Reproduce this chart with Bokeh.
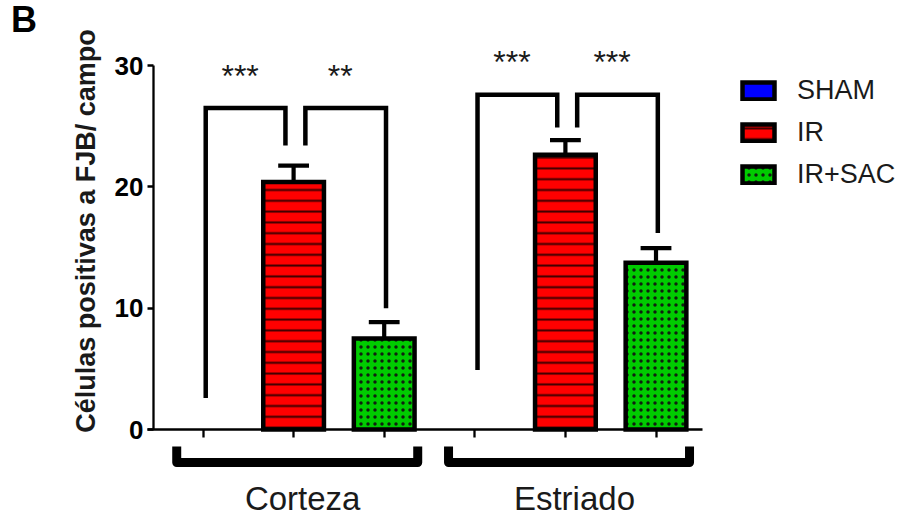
import math

from bokeh.plotting import figure
from bokeh.models import ColumnDataSource, FixedTicker, Label, Legend, LegendItem, Range1d
from bokeh.core.properties import value
from bokeh.embed import file_html
from bokeh.resources import INLINE

# ---- data ---------------------------------------------------------------
regions = ["Corteza", "Estriado"]
groups = ["SHAM", "IR", "IR+SAC"]

sham_mean = [0.0, 0.0]
sham_sem = [0.0, 0.0]
ir_mean = [20.4, 22.65]
ir_sem = [1.35, 1.2]
sac_mean = [7.5, 13.75]
sac_sem = [1.35, 1.2]

y_ticks = [0, 10, 20, 30]
y_label = "Células positivas a FJB/ campo"
panel_letter = "B"

# pairwise comparisons: region, left group, right group, arm ends, bracket top, stars
sig_region = [0, 0, 1, 1]
sig_left = [0, 1, 0, 1]
sig_right = [1, 2, 1, 2]
sig_left_end = [2.6, 23.4, 4.9, 24.9]
sig_right_end = [23.4, 10.0, 24.9, 16.2]
sig_top = [26.5, 26.5, 27.6, 27.6]
sig_stars = ["***", "**", "***", "***"]

# ---- styling ------------------------------------------------------------
FONT = "Liberation Sans"
INK = "#1a1a1a"
BAR_W = 0.67
BAR_LW = 4.5
CAP_HALF = 0.17
COLORS = {"SHAM": "#0000ff", "IR": "#ff0000", "IR+SAC": "#00cc00"}
LEFT_ARM_SHIFT = {0: 0.03, 1: 0.13}
RIGHT_ARM_SHIFT = {1: -0.09, 2: 0.02}
Y_AXIS_AT = -0.5464          # where the value axis stands, in category units
X_AXIS_SPAN = (-0.613, 5.513)

W, H = 910, 518
p = figure(width=W, height=H, output_backend="svg", toolbar_location=None,
           x_range=Range1d(-2.2351, 7.809), y_range=Range1d(-7.335, 35.358),
           min_border_left=0, min_border_right=0, min_border_top=0,
           min_border_bottom=0)
p.outline_line_color = None
p.grid.visible = False
p.background_fill_color = "white"
p.border_fill_color = "white"


def pos(region, group):
    return 3 * region + group


def bar_source(means, sems, g):
    xs = [pos(r, g) for r in range(len(regions))]
    return ColumnDataSource(dict(x=xs, top=means, err=[m + s for m, s in zip(means, sems)],
                                 cl=[x - CAP_HALF for x in xs], cr=[x + CAP_HALF for x in xs]))


src_sham = bar_source(sham_mean, sham_sem, 0)
src_ir = bar_source(ir_mean, ir_sem, 1)
src_sac = bar_source(sac_mean, sac_sem, 2)

# SHAM bars sit at zero height: fill only
p.vbar(x="x", top="top", bottom=0, width=BAR_W, source=src_sham,
       fill_color=COLORS["SHAM"], line_color=None)
# legend key for SHAM (no drawable extent of its own)
sham_key = p.vbar(x=[float("nan")], top=[float("nan")], width=BAR_W,
                  fill_color=COLORS["SHAM"], line_color="black", line_width=BAR_LW,
                  line_join="miter")

ir_r = p.vbar(x="x", top="top", bottom=0, width=BAR_W, source=src_ir,
              fill_color=COLORS["IR"], line_color="black", line_width=BAR_LW,
              line_join="miter", hatch_pattern="horizontal_line", hatch_color="#3a0000",
              hatch_weight=2, hatch_scale=10.8)
sac_r = p.vbar(x="x", top="top", bottom=0, width=BAR_W, source=src_sac,
               fill_color=COLORS["IR+SAC"], line_color="black", line_width=BAR_LW,
               line_join="miter", hatch_pattern="dot", hatch_color="#102010",
               hatch_weight=1.5, hatch_scale=7)

# upper SEM whiskers
for src in (src_ir, src_sac):
    p.segment(x0="x", y0="top", x1="x", y1="err", source=src, line_color="black", line_width=4.2)
    p.segment(x0="cl", y0="err", x1="cr", y1="err", source=src, line_color="black", line_width=4.2)

# significance brackets
xs, ys, sx, sy = [], [], [], []
for r, a, b, ea, eb, top, s in zip(sig_region, sig_left, sig_right, sig_left_end,
                                   sig_right_end, sig_top, sig_stars):
    xa = pos(r, a) + LEFT_ARM_SHIFT[a]
    xb = pos(r, b) + RIGHT_ARM_SHIFT[b]
    xs.append([xa, xa, xb, xb])
    ys.append([ea, top, top, eb])
    sx.append((xa + xb) / 2 - 0.06)
    sy.append(top + 2.65)
p.multi_line(xs=xs, ys=ys, line_color="black", line_width=4.5, line_join="miter")
p.text(x=sx, y=sy, text=sig_stars, text_font=value(FONT), text_font_size="32px",
       text_color=INK, text_align="center", text_baseline="middle")

# region brackets and names under the x axis
gx, gy, lx = [], [], []
for r in range(len(regions)):
    a = pos(r, 0) - 0.29
    b = pos(r, len(groups) - 1) + 0.37
    gx.append([a, a, b, b])
    gy.append([-1.40, -2.72, -2.72, -1.40])
    lx.append(pos(r, 1) + 0.1)
p.multi_line(xs=gx, ys=gy, line_color="black", line_width=9, line_join="round")
p.text(x=lx, y=[-5.69] * len(regions), text=regions, text_font=value(FONT),
       text_font_size="33px", text_color=INK, text_align="center",
       text_baseline="middle")

# y axis, standing at a fixed position inside the canvas
ya = p.yaxis[0]
ya.fixed_location = Y_AXIS_AT
ya.ticker = FixedTicker(ticks=y_ticks)
ya.bounds = (y_ticks[0], y_ticks[-1])
ya.axis_line_width = 2.3
ya.major_tick_line_width = 2.3
ya.major_tick_out = 6
ya.major_tick_in = 0
ya.minor_tick_out = 0
ya.minor_tick_in = 0
ya.major_label_standoff = 4
ya.major_label_text_font = FONT
ya.major_label_text_font_style = "bold"
ya.major_label_text_font_size = "26px"
ya.major_label_text_color = "black"

# x axis drawn on the zero line
xa_ = p.xaxis[0]
tick_pos = [pos(r, g) for r in range(len(regions)) for g in range(len(groups))]
xa_.fixed_location = 0
xa_.ticker = FixedTicker(ticks=tick_pos)
xa_.bounds = X_AXIS_SPAN
xa_.axis_line_width = 2.3
xa_.major_tick_line_width = 2.3
xa_.major_tick_out = 8
xa_.major_tick_in = 0
xa_.minor_tick_out = 0
xa_.minor_tick_in = 0
xa_.major_label_overrides = {t: "" for t in tick_pos}
xa_.major_label_text_font_size = "0px"

p.add_layout(Label(x=-1.2914, y=16.36, text=y_label, angle=math.pi / 2,
                   text_font=FONT, text_font_style="bold", text_font_size="27px",
                   text_color=INK, text_align="center", text_baseline="middle"))
p.add_layout(Label(x=-2.12, y=33.83, text=panel_letter, text_font=FONT,
                   text_font_style="bold", text_font_size="36px", text_color="black",
                   text_align="left", text_baseline="middle"))

legend = Legend(items=[LegendItem(label=groups[0], renderers=[sham_key]),
                       LegendItem(label=groups[1], renderers=[ir_r]),
                       LegendItem(label=groups[2], renderers=[sac_r])],
                location=(738, 328), orientation="vertical",
                glyph_width=40, glyph_height=21, label_standoff=19,
                label_text_font=FONT, label_text_font_size="27px", label_text_color=INK,
                spacing=11, padding=0, margin=0, border_line_color=None,
                background_fill_alpha=0)
p.add_layout(legend)

open("out.html", "w").write(file_html(p, INLINE))
